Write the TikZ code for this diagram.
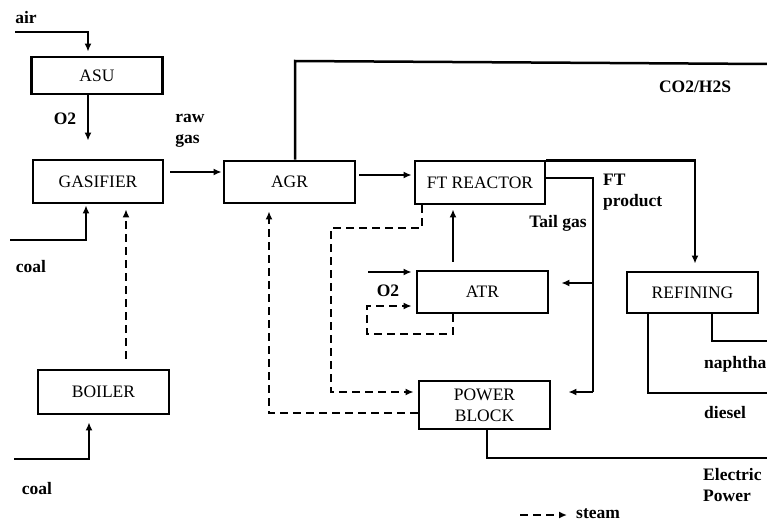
\documentclass[tikz,border=0pt]{standalone}
\usepackage{fontspec}
\setmainfont{Liberation Serif}
\usepackage{tikz}
\usetikzlibrary{arrows.meta,positioning}

\begin{document}
\begin{tikzpicture}[
  x=1pt,y=-1pt,
  box/.style={rectangle,draw,line width=2.8pt,minimum width=131pt,inner sep=0pt,align=center,font=\fontsize{17.5}{21}\selectfont},
  lab/.style={font=\fontsize{17.5}{20.5}\selectfont\bfseries,inner sep=0pt},
  line/.style={line width=2.5pt},
  arrow/.style={line width=2.5pt,-{Latex[length=8pt,width=7pt]}},
  steam/.style={line width=2.5pt,dash pattern=on 8pt off 5pt,-{Latex[length=8pt,width=7pt]}},
  >=Stealth
]
\useasboundingbox (0,0) rectangle (767,524);

% Units
\node[box,minimum height=37pt] (asu) at (97,75.5) {ASU};
\node[box,minimum width=130pt,minimum height=43pt] (gas) at (98,181.5) {GASIFIER};
\node[box,minimum height=44pt] (boiler) at (103.5,392) {BOILER};
\node[box,minimum height=42pt] (agr) at (289.5,182) {AGR};
\node[box,minimum width=130pt,minimum height=43pt] (ft) at (480,182.5) {FT REACTOR};
\node[box,minimum height=42pt] (atr) at (482.5,292) {ATR};
\node[box,minimum height=48pt] (pb) at (484.5,405) {POWER\\BLOCK};
\node[box,minimum height=41pt] (ref) at (692.5,292.5) {REFINING};

% Free ends
\coordinate (air) at (15,32);
\coordinate (coal1) at (10,240);
\coordinate (coal2) at (14,459);
\coordinate (agrtop) at (295,61);
\coordinate (co2) at (767,64);
\coordinate (tg1) at (593,283);
\coordinate (tg2) at (593,392);
\coordinate (o2in) at (368,272);
\coordinate (elec) at (767,458);
\coordinate (naph) at (767,341);
\coordinate (dies) at (767,393);

% Main streams
\draw[arrow,shorten >=4pt] (air) -| ([xshift=-9pt]asu.north);
\draw[arrow,shorten >=18pt] ([xshift=-9pt]asu.south) -- ([xshift=-10pt]gas.north);
\draw[arrow,shorten <=6pt,shorten >=1pt] ([yshift=9.5pt]gas.east) -- ([yshift=10pt]agr.west);
\draw[arrow,shorten >=1pt] (coal1) -| ([xshift=-12pt]gas.south);
\draw[arrow,shorten >=7pt] (coal2) -| ([xshift=-14.5pt]boiler.south);
\draw[line] ([xshift=5.5pt]agr.north) -- (agrtop) -- (co2);
\draw[arrow,shorten <=3pt,shorten >=2pt] ([yshift=7pt]agr.east) -- ([yshift=7.5pt]ft.west);
\draw[arrow,shorten >=7pt] ([yshift=-1pt]ft.north east) -| ([xshift=2.5pt]ref.north);
\draw[line] ([yshift=4.5pt]ft.east) -| (tg2);
\draw[arrow,shorten >=12pt] (tg1) -- ([yshift=9pt]atr.east);
\draw[arrow,shorten >=17pt] (tg2) -- ([yshift=13pt]pb.east);
\draw[arrow,shorten <=8pt,shorten >=4pt] ([xshift=-29.5pt]atr.north) -- ([xshift=-27pt]ft.south);
\draw[arrow,shorten >=4pt] (o2in) -- (o2in -| atr.west);
\draw[line] ([xshift=2.5pt]pb.south) |- (elec);
\draw[line] ([xshift=19.5pt]ref.south) |- (naph);
\draw[line] ([xshift=-44.5pt]ref.south) |- (dies);

% Steam
\draw[steam,shorten <=10pt,shorten >=5pt] ([xshift=22.5pt]boiler.north) -- ([xshift=28pt]gas.south);
\draw[steam,shorten >=4pt] ([xshift=-29.5pt]atr.south) |- (367,334) |- ([yshift=-14pt]atr.west);
\draw[steam,shorten >=4pt] ([xshift=-58pt]ft.south) |- (331,228) |- ([yshift=13pt]pb.west);
\draw[steam,shorten >=7pt] ([yshift=-8pt]pb.west) -| ([xshift=-20.5pt]agr.south);

% Labels
\node[lab] (lair) at (26,18) {air};
\node[lab] (lo2a) at (65,119) {O2};
\node[lab,align=left] (lraw) at (190,131) {raw\\gas};
\node[lab] (lcoal1) at (31,267) {coal};
\node[lab] (lcoal2) at (37,489) {coal};
\node[lab] (lco2) at (695,87) {CO2/H2S};
\node[lab,align=left,anchor=west] (lft) at (603,192) {FT\\product};
\node[lab] (ltail) at (558,223) {Tail gas};
\node[lab] (lo2b) at (388,291) {O2};
\node[lab,anchor=west] (lnaph) at (704,364) {naphtha};
\node[lab,anchor=west] (ldies) at (704,413) {diesel};
\node[lab,align=left,anchor=west] (lelec) at (703,485) {Electric\\Power};

% Legend
\coordinate (lg1) at (520,515);
\coordinate (lg2) at (567,515);
\draw[steam] (lg1) -- (lg2);
\node[lab,anchor=west] (lsteam) at (576,514) {steam};
\end{tikzpicture}
\end{document}
